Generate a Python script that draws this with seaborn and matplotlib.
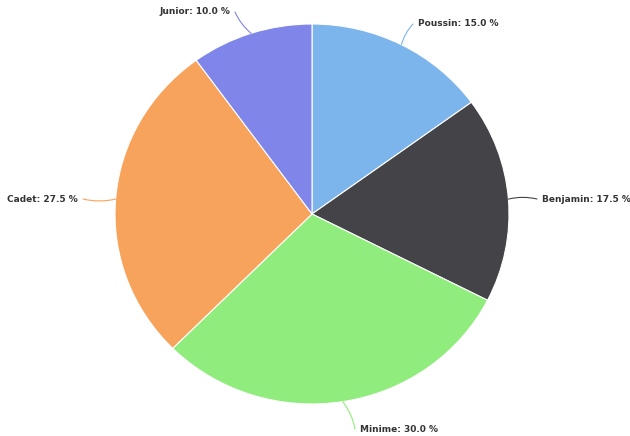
import numpy as np
import matplotlib
matplotlib.use("Agg")
import matplotlib.pyplot as plt
import seaborn as sns

# Données
categories = ["Poussin", "Benjamin", "Minime", "Cadet", "Junior"]
shares = [15.0, 17.5, 30.0, 27.5, 10.0]
colors = ["#7cb5ec", "#434348", "#90ed7d", "#f7a35c", "#8085e9"]

# Position des étiquettes (pixels écran, alignement)
label_layout = {
    "Poussin": (418, 24, "left"),
    "Benjamin": (542, 199, "left"),
    "Minime": (360, 429, "left"),
    "Cadet": (78, 199, "right"),
    "Junior": (230, 12, "right"),
}

sns.set_theme(style="white")
plt.rcParams["font.family"] = ["DejaVu Sans"]

W, H = 630, 436
cx, cy = 312, 214     # centre en pixels écran
rx, ry = 197, 190     # le camembert est légèrement étiré en largeur


def to_data(px, py):
    return (px - cx) / rx, (cy - py) / ry


fig = plt.figure(figsize=(W / 100, H / 100), dpi=100)
ax = fig.add_axes([0, 0, 1, 1])

wedges, _ = ax.pie(shares, colors=colors, startangle=90, counterclock=False,
                   radius=1, frame=True,
                   wedgeprops=dict(edgecolor="white", linewidth=0.8))
ax.set_aspect("auto")
ax.set_xlim(-cx / rx, (W - cx) / rx)
ax.set_ylim((cy - H) / ry, cy / ry)
ax.axis("off")

for w, name, val, col in zip(wedges, categories, shares, colors):
    mid = np.deg2rad((w.theta1 + w.theta2) / 2)
    edge = (np.cos(mid), np.sin(mid))
    lx, ly, ha = label_layout[name]
    tx = lx - 5 if ha == "left" else lx + 5
    ax.annotate("", xy=edge, xytext=to_data(tx, ly),
                arrowprops=dict(arrowstyle="-", color=col, lw=0.8,
                                connectionstyle="arc3,rad=0.12",
                                shrinkA=0, shrinkB=0))
    ax.text(*to_data(lx, ly), f"{name}: {val:.1f} %", ha=ha, va="center",
            fontsize=6.5, fontweight="bold", color="#333333")

fig.savefig("out.png", dpi=100)
